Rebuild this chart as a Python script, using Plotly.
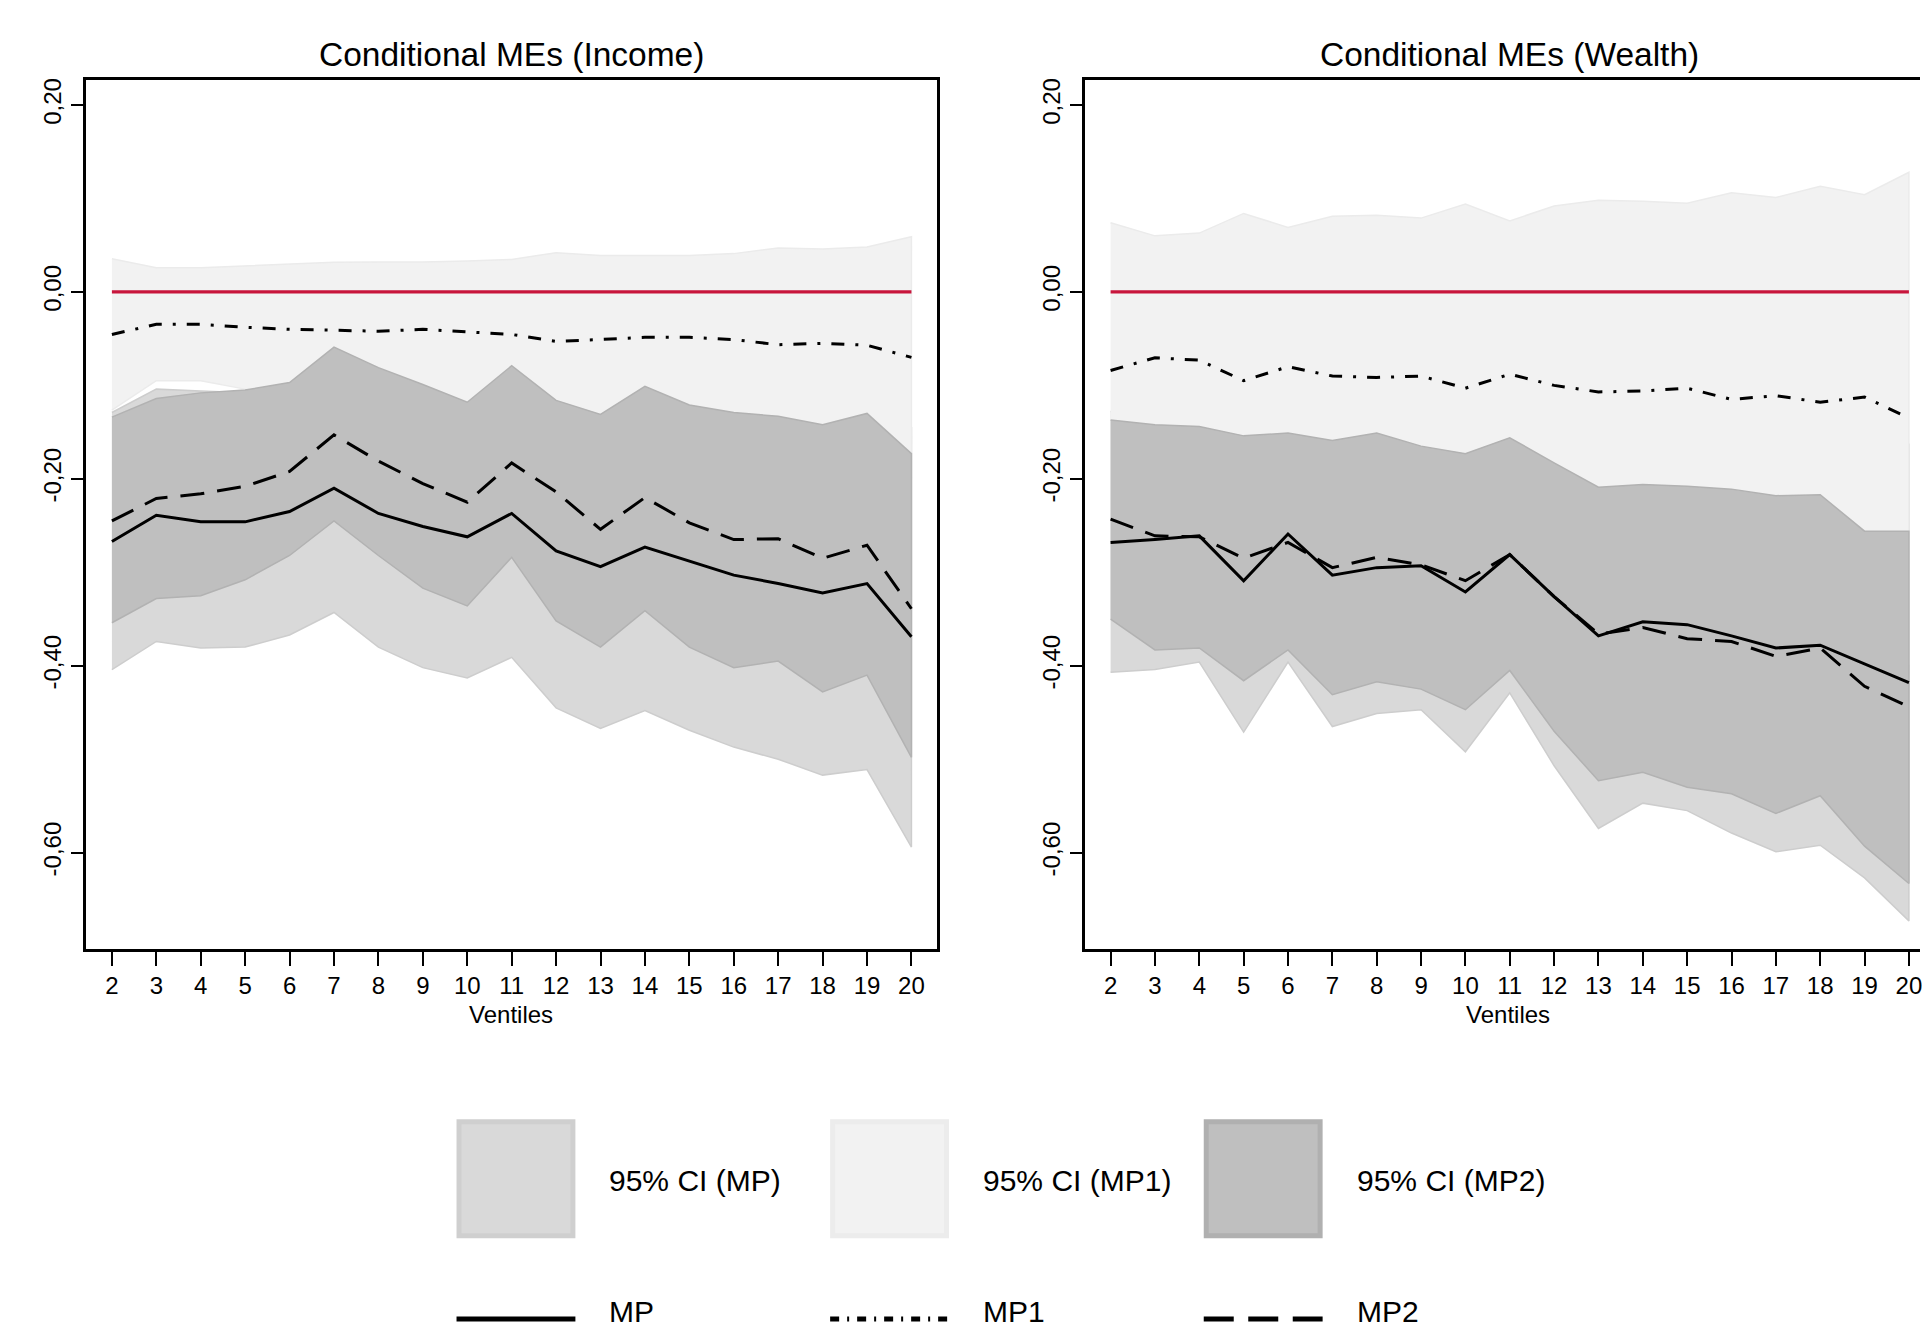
import plotly.graph_objects as go

W, H = 1922, 1331

# ---------------- data ----------------
ventiles = list(range(2, 21))
xtick_labels = [str(v) for v in ventiles]
ytick_vals = [0.2, 0.0, -0.2, -0.4, -0.6]
ytick_labels = ["0,20", "0,00", "-0,20", "-0,40", "-0,60"]
zero_line = [0.0] * len(ventiles)

# Income panel
mp_inc = [-0.267, -0.239, -0.246, -0.246, -0.235, -0.210, -0.237, -0.251, -0.262, -0.237,
          -0.277, -0.294, -0.273, -0.288, -0.303, -0.312, -0.322, -0.312, -0.369]
mp_inc_lo = [-0.404, -0.374, -0.381, -0.380, -0.367, -0.343, -0.380, -0.402, -0.413, -0.391,
             -0.445, -0.467, -0.448, -0.469, -0.487, -0.500, -0.517, -0.511, -0.594]
mp_inc_hi = [-0.129, -0.104, -0.106, -0.108, -0.102, -0.077, -0.095, -0.101, -0.111, -0.084,
             -0.108, -0.121, -0.099, -0.108, -0.119, -0.125, -0.127, -0.114, -0.145]
mp1_inc = [-0.0455, -0.0346, -0.0346, -0.0378, -0.040, -0.041, -0.042, -0.040, -0.043, -0.0455,
           -0.053, -0.051, -0.0486, -0.0486, -0.051, -0.0565, -0.055, -0.057, -0.070]
mp1_inc_hi = [0.0355, 0.026, 0.026, 0.028, 0.030, 0.0317, 0.032, 0.032, 0.033, 0.0348,
              0.042, 0.039, 0.039, 0.039, 0.041, 0.047, 0.046, 0.048, 0.059]
mp1_inc_lo = [-0.1265, -0.095, -0.095, -0.104, -0.110, -0.114, -0.116, -0.112, -0.119, -0.126,
              -0.148, -0.141, -0.136, -0.136, -0.143, -0.160, -0.156, -0.162, -0.200]
mp2_inc = [-0.245, -0.221, -0.216, -0.208, -0.192, -0.153, -0.181, -0.205, -0.225, -0.183,
           -0.214, -0.254, -0.220, -0.247, -0.265, -0.264, -0.285, -0.271, -0.339]
mp2_inc_hi = [-0.134, -0.114, -0.108, -0.105, -0.097, -0.059, -0.081, -0.099, -0.118, -0.079,
              -0.116, -0.131, -0.101, -0.121, -0.129, -0.133, -0.142, -0.130, -0.173]
mp2_inc_lo = [-0.354, -0.328, -0.325, -0.308, -0.282, -0.245, -0.282, -0.317, -0.336, -0.284,
              -0.352, -0.380, -0.341, -0.380, -0.402, -0.395, -0.428, -0.410, -0.498]

# Wealth panel
mp_w = [-0.268, -0.265, -0.261, -0.309, -0.259, -0.303, -0.295, -0.293, -0.321, -0.281,
        -0.326, -0.368, -0.353, -0.356, -0.368, -0.381, -0.378, -0.398, -0.418]
mp_w_lo = [-0.407, -0.404, -0.396, -0.471, -0.396, -0.465, -0.451, -0.447, -0.492, -0.429,
           -0.507, -0.574, -0.547, -0.555, -0.579, -0.599, -0.592, -0.627, -0.673]
mp_w_hi = [-0.128, -0.127, -0.126, -0.147, -0.122, -0.142, -0.139, -0.140, -0.150, -0.132,
           -0.145, -0.162, -0.159, -0.158, -0.156, -0.163, -0.163, -0.170, -0.163]
mp1_w = [-0.084, -0.0705, -0.073, -0.095, -0.080, -0.090, -0.0915, -0.090, -0.103, -0.088,
         -0.100, -0.107, -0.106, -0.103, -0.115, -0.111, -0.118, -0.1125, -0.135]
mp1_w_hi = [0.074, 0.060, 0.063, 0.084, 0.069, 0.081, 0.082, 0.079, 0.094, 0.076,
            0.092, 0.098, 0.097, 0.095, 0.106, 0.101, 0.113, 0.104, 0.128]
mp1_w_lo = [-0.242, -0.201, -0.210, -0.275, -0.228, -0.262, -0.265, -0.259, -0.300, -0.252,
            -0.292, -0.311, -0.308, -0.301, -0.336, -0.322, -0.348, -0.329, -0.399]
mp2_w = [-0.243, -0.261, -0.262, -0.285, -0.268, -0.295, -0.284, -0.292, -0.309, -0.281,
         -0.326, -0.366, -0.359, -0.371, -0.374, -0.390, -0.381, -0.422, -0.444]
mp2_w_hi = [-0.137, -0.142, -0.144, -0.154, -0.151, -0.159, -0.151, -0.165, -0.173, -0.156,
            -0.183, -0.209, -0.206, -0.208, -0.211, -0.218, -0.217, -0.256, -0.256]
mp2_w_lo = [-0.350, -0.383, -0.381, -0.416, -0.383, -0.431, -0.417, -0.425, -0.447, -0.405,
            -0.470, -0.523, -0.514, -0.530, -0.537, -0.558, -0.539, -0.593, -0.633]

panel_titles = ["Conditional MEs (Income)", "Conditional MEs (Wealth)"]
x_title = "Ventiles"
legend_band_labels = ["95% CI (MP)", "95% CI (MP1)", "95% CI (MP2)"]
legend_line_labels = ["MP", "MP1", "MP2"]

# ---------------- styles ----------------
FONT = "Liberation Sans, Arial, sans-serif"
C_MP, C_MP_E = "#d9d9d9", "#cdcdcd"
C_MP1, C_MP1_E = "#f2f2f2", "#ebebeb"
C_MP2, C_MP2_E = "#bfbfbf", "#b2b2b2"
RED = "#C8163C"
DASH_MP1 = "13px,11px,3px,11px"
DASH_MP2 = "24px,13px"


def px(x):
    return x / W


def py(y):
    return 1 - y / H


fig = go.Figure()

panels = [
    (mp_inc, mp_inc_lo, mp_inc_hi, mp1_inc, mp1_inc_lo, mp1_inc_hi, mp2_inc, mp2_inc_lo, mp2_inc_hi, "x", "y"),
    (mp_w, mp_w_lo, mp_w_hi, mp1_w, mp1_w_lo, mp1_w_hi, mp2_w, mp2_w_lo, mp2_w_hi, "x2", "y2"),
]

for (mp, mplo, mphi, m1, m1lo, m1hi, m2, m2lo, m2hi, xa, ya) in panels:
    xs_band = ventiles + ventiles[::-1]
    for hi, lo, fc, ec in [(mphi, mplo, C_MP, C_MP_E),
                           (m1hi, m1lo, C_MP1, C_MP1_E),
                           (m2hi, m2lo, C_MP2, C_MP2_E)]:
        fig.add_trace(go.Scatter(x=xs_band, y=hi + lo[::-1], fill="toself", fillcolor=fc,
                                 mode="lines", line=dict(color=ec, width=1.5),
                                 xaxis=xa, yaxis=ya, showlegend=False, hoverinfo="skip"))
    fig.add_trace(go.Scatter(x=ventiles, y=zero_line, mode="lines",
                             line=dict(color=RED, width=3.2), xaxis=xa, yaxis=ya,
                             showlegend=False, hoverinfo="skip"))
    fig.add_trace(go.Scatter(x=ventiles, y=mp, mode="lines", line=dict(color="black", width=3),
                             xaxis=xa, yaxis=ya, showlegend=False))
    fig.add_trace(go.Scatter(x=ventiles, y=m1, mode="lines",
                             line=dict(color="black", width=3, dash=DASH_MP1),
                             xaxis=xa, yaxis=ya, showlegend=False))
    fig.add_trace(go.Scatter(x=ventiles, y=m2, mode="lines",
                             line=dict(color="black", width=3, dash=DASH_MP2),
                             xaxis=xa, yaxis=ya, showlegend=False))

y_dom = [py(948), py(78)]
yrange = [-0.7026, 0.2269]

common_x = dict(showline=True, linecolor="black", linewidth=3, mirror=True, ticks="outside",
                ticklen=14, tickwidth=2, tickcolor="black", tickvals=ventiles,
                ticktext=xtick_labels, tickfont=dict(family=FONT, size=24, color="black"),
                showgrid=False, zeroline=False, fixedrange=True, ticklabeloverflow="allow")
common_y = dict(showline=True, linecolor="black", linewidth=3, ticks="outside", ticklen=12,
                tickwidth=2, tickcolor="black", tickvals=ytick_vals, ticktext=ytick_labels,
                tickangle=-90, tickfont=dict(family=FONT, size=24, color="black"),
                showgrid=False, zeroline=False, range=yrange, domain=y_dom, fixedrange=True)

fig.update_layout(
    width=W, height=H, margin=dict(l=0, r=0, t=0, b=0),
    paper_bgcolor="white", plot_bgcolor="white",
    font=dict(family=FONT, color="black"),
    xaxis=dict(common_x, domain=[px(86), px(938)], range=[1.415, 20.576], anchor="y"),
    yaxis=dict(common_y, mirror=True, anchor="x"),
    xaxis2=dict(common_x, domain=[px(1086), 1.0], range=[1.42, 20.25], anchor="y2"),
    yaxis2=dict(common_y, mirror=False, anchor="x2"),
)

# titles and axis titles
annotations = []
for cx, t in zip([512, 1511], panel_titles):
    annotations.append(dict(x=px(cx), y=py(53), xref="paper", yref="paper", text=t,
                            showarrow=False, xanchor="center", yanchor="middle",
                            font=dict(family=FONT, size=33.5, color="black")))
for cx in [512, 1510]:
    annotations.append(dict(x=px(cx), y=py(1014), xref="paper", yref="paper", text=x_title,
                            showarrow=False, xanchor="center", yanchor="middle",
                            font=dict(family=FONT, size=24, color="black")))

# legend (drawn manually)
shapes = []
lx = [457, 831, 1205]
band_styles = [(C_MP, "#cfcfcf", 5), (C_MP1, "#ececec", 5), (C_MP2, "#b0b0b0", 5)]
line_dashes = ["solid", "9px,8px,2px,8px", "30px,14.5px"]
for i in range(3):
    fc, ec, lw = band_styles[i]
    shapes.append(dict(type="rect", xref="paper", yref="paper",
                       x0=px(lx[i] + 2.5), x1=px(lx[i] + 119 - 2.5),
                       y0=py(1238 - 2.5), y1=py(1119 + 2.5),
                       fillcolor=fc, line=dict(color=ec, width=lw), layer="above"))
    annotations.append(dict(x=px(lx[i] + 151), y=py(1180), xref="paper", yref="paper",
                            text=legend_band_labels[i], showarrow=False,
                            xanchor="left", yanchor="middle",
                            font=dict(family=FONT, size=30, color="black")))
    shapes.append(dict(type="line", xref="paper", yref="paper",
                       x0=px(lx[i]), x1=px(lx[i] + 119), y0=py(1319), y1=py(1319),
                       line=dict(color="black", width=5, dash=line_dashes[i])))
    annotations.append(dict(x=px(lx[i] + 151), y=py(1330), xref="paper", yref="paper",
                            text=legend_line_labels[i], showarrow=False,
                            xanchor="left", yanchor="bottom",
                            font=dict(family=FONT, size=30, color="black")))

fig.update_layout(annotations=annotations, shapes=shapes)

fig.write_html("out.html", include_plotlyjs=True, config={"displayModeBar": False},
               post_script="document.body.style.margin='0';document.body.style.overflow='hidden';")
